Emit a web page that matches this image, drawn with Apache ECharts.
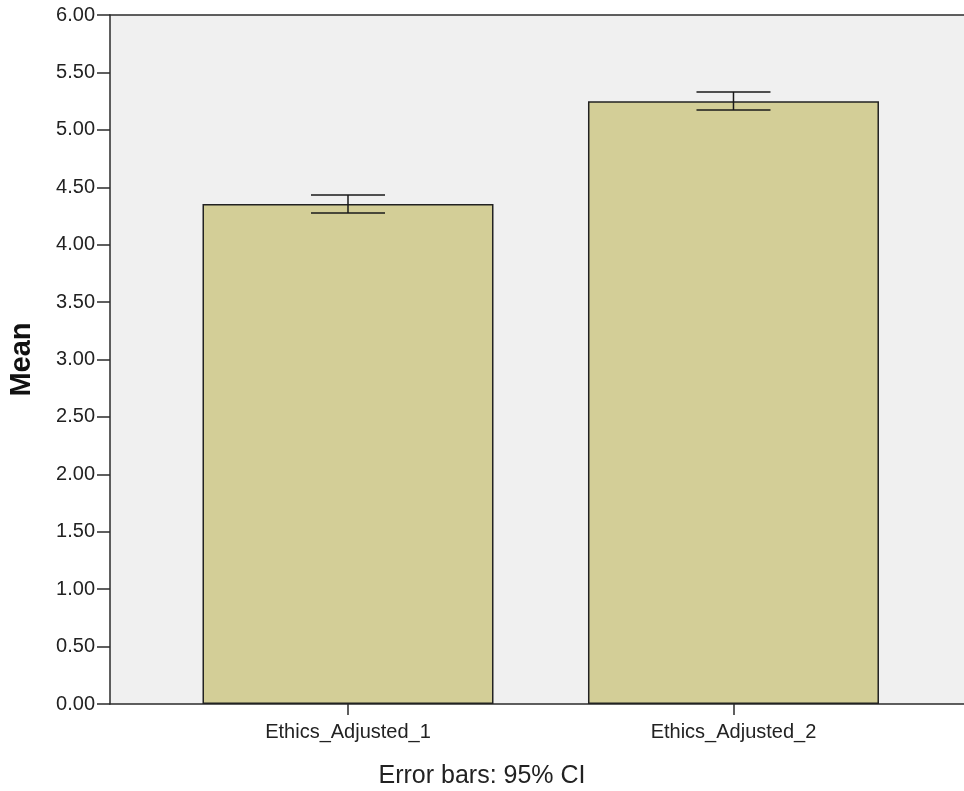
<!DOCTYPE html>
<html>
<head>
<meta charset="utf-8">
<script src="https://cdn.jsdelivr.net/npm/echarts@6/dist/echarts.min.js"></script>
<style>
html,body{margin:0;padding:0;background:#fff;}
#chart{width:964px;height:791px;}
</style>
</head>
<body>
<div id="chart"></div>
<script>
var categories = ['Ethics_Adjusted_1', 'Ethics_Adjusted_2'];
var means = [4.354, 5.248];
var ciLower = [4.276, 5.173];
var ciUpper = [4.433, 5.330];
var yTicks = [0, 0.5, 1, 1.5, 2, 2.5, 3, 3.5, 4, 4.5, 5, 5.5, 6];

var positions = categories.map(function (c, i) { return i + 1; });
var barData = positions.map(function (p, i) { return [p, means[i]]; });
var errData = positions.map(function (p, i) { return [p, ciLower[i], ciUpper[i]]; });

var FONT = 'Liberation Sans, Arial, sans-serif';
var AX = { color: '#2b2b2b', width: 1.5 };

var chart = echarts.init(document.getElementById('chart'));
chart.setOption({
  animation: false,
  backgroundColor: '#ffffff',
  grid: {
    left: 110, right: 0, top: 15, bottom: 87,
    containLabel: false,
    outerBoundsMode: 'none',
    show: true, backgroundColor: '#f0f0f0',
    borderWidth: 0
  },
  xAxis: [{
    type: 'value',
    min: 0.3826, max: 2.598,
    axisLine: { show: true, lineStyle: AX },
    splitLine: { show: false },
    axisTick: { show: true, length: 11, customValues: positions, lineStyle: AX },
    axisLabel: {
      customValues: positions,
      margin: 18,
      fontFamily: FONT,
      fontSize: 20, color: '#222',
      formatter: function (v) { return categories[Math.round(v) - 1] || ''; }
    }
  }, {
    type: 'value',
    position: 'top',
    min: 0.3826, max: 2.598,
    axisLine: { show: true, lineStyle: AX },
    splitLine: { show: false },
    axisTick: { show: false },
    axisLabel: { show: false }
  }],
  yAxis: {
    type: 'value',
    min: 0, max: 6, interval: 0.5,
    name: 'Mean',
    nameLocation: 'middle',
    nameGap: 74,
    nameTextStyle: { fontFamily: FONT, fontSize: 29, fontWeight: 'bold', color: '#111' },
    axisLine: { show: true, lineStyle: AX },
    splitLine: { show: false },
    axisTick: { show: true, length: 13, lineStyle: AX },
    axisLabel: {
      margin: 15,
      fontFamily: FONT,
      fontSize: 20, color: '#222',
      formatter: function (v) { return v.toFixed(2); }
    }
  },
  graphic: [{
    type: 'text',
    left: 'center',
    top: 764,
    style: {
      text: 'Error bars: 95% CI',
      fontFamily: FONT,
      fontSize: 25, fill: '#222'
    }
  }],
  series: [{
    type: 'bar',
    data: barData,
    barWidth: 291,
    itemStyle: { color: '#d3ce97', borderColor: '#222', borderWidth: 1.5 }
  }, {
    type: 'custom',
    data: errData,
    z: 10,
    renderItem: function (params, api) {
      var x = api.value(0);
      var lo = api.coord([x, api.value(1)]);
      var hi = api.coord([x, api.value(2)]);
      var half = 37;
      var st = { stroke: '#1a1a1a', lineWidth: 1.5 };
      return {
        type: 'group',
        children: [
          { type: 'line', shape: { x1: lo[0], y1: lo[1], x2: hi[0], y2: hi[1] }, style: st },
          { type: 'line', shape: { x1: hi[0] - half, y1: hi[1], x2: hi[0] + half, y2: hi[1] }, style: st },
          { type: 'line', shape: { x1: lo[0] - half, y1: lo[1], x2: lo[0] + half, y2: lo[1] }, style: st }
        ]
      };
    }
  }]
});
</script>
</body>
</html>
